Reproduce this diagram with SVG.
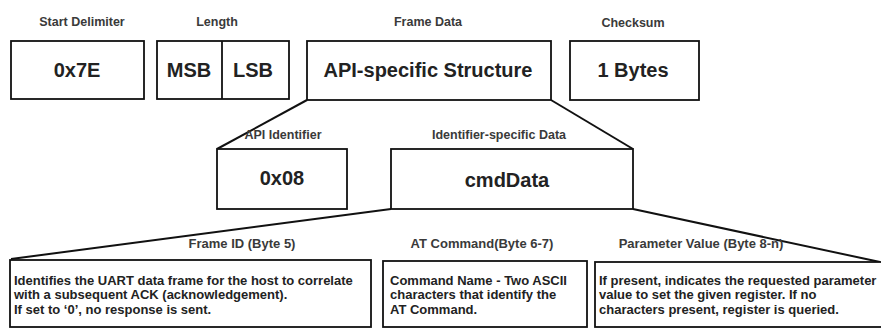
<svg xmlns="http://www.w3.org/2000/svg" width="881" height="328" viewBox="0 0 881 328">
  <style>
    .box { fill: #ffffff; stroke: #111111; stroke-width: 1.8; }
    .link { fill: none; stroke: #111111; stroke-width: 2; }
    .cap { font-family: "Liberation Sans", Arial, sans-serif; font-weight: bold; font-size: 12.5px; fill: #3a3a3a; text-anchor: middle; }
    .cap2 { font-family: "Liberation Sans", Arial, sans-serif; font-weight: bold; font-size: 13px; fill: #3a3a3a; text-anchor: middle; }
    .big { font-family: "Liberation Sans", Arial, sans-serif; font-weight: bold; font-size: 20px; fill: #222222; text-anchor: middle; }
    .body { font-family: "Liberation Sans", Arial, sans-serif; font-weight: bold; font-size: 13px; fill: #222222; }
  </style>
  <rect width="881" height="328" fill="#ffffff"/>

  <!-- connectors: expansion outlines between levels -->
  <g id="connectors">
    <path class="link" d="M307,100 L217,149"/>
    <path class="link" d="M551,100 L633,149"/>
    <path class="link" d="M391,209 L11,259"/>
    <path class="link" d="M633,209 L880,262"/>
  </g>

  <!-- top row -->
  <g id="start-delimiter">
    <text class="cap" x="82" y="26">Start Delimiter</text>
    <rect class="box" x="11" y="41" width="133" height="58"/>
    <text class="big" x="77" y="77">0x7E</text>
  </g>
  <g id="length">
    <text class="cap" x="217" y="26">Length</text>
    <rect class="box" x="157" y="41" width="132" height="58"/>
    <line class="box" x1="222" y1="41" x2="222" y2="99"/>
    <text class="big" x="189" y="77">MSB</text>
    <text class="big" x="253" y="77">LSB</text>
  </g>
  <g id="frame-data">
    <text class="cap" x="428" y="26">Frame Data</text>
    <rect class="box" x="307" y="41" width="244" height="59"/>
    <text class="big" x="428" y="77">API-specific Structure</text>
  </g>
  <g id="checksum">
    <text class="cap" x="633" y="27">Checksum</text>
    <rect class="box" x="570" y="41" width="129" height="59"/>
    <text class="big" x="633" y="77">1 Bytes</text>
  </g>

  <!-- middle row -->
  <g id="api-identifier">
    <text class="cap" x="283" y="139">API Identifier</text>
    <rect class="box" x="217" y="149" width="130" height="60"/>
    <text class="big" x="282" y="185">0x08</text>
  </g>
  <g id="identifier-data">
    <text class="cap" x="499" y="139">Identifier-specific Data</text>
    <rect class="box" x="391" y="149" width="242" height="60"/>
    <text class="big" x="507" y="187">cmdData</text>
  </g>

  <!-- bottom row -->
  <g id="frame-id">
    <text class="cap2" x="242" y="248">Frame ID (Byte 5)</text>
    <rect class="box" x="10" y="260" width="361" height="67"/>
    <text class="body" x="14" y="285">Identifies the UART data frame for the host to correlate</text>
    <text class="body" x="14" y="299">with a subsequent ACK (acknowledgement).</text>
    <text class="body" x="14" y="314">If set to ‘0’, no response is sent.</text>
  </g>
  <g id="at-command">
    <text class="cap2" x="482" y="248">AT Command(Byte 6-7)</text>
    <rect class="box" x="383" y="261" width="204" height="66"/>
    <text class="body" x="390" y="285">Command Name - Two ASCII</text>
    <text class="body" x="390" y="299">characters that identify the</text>
    <text class="body" x="390" y="314">AT Command.</text>
  </g>
  <g id="parameter-value">
    <text class="cap2" x="701" y="248">Parameter Value (Byte 8-n)</text>
    <rect class="box" x="595" y="262" width="290" height="65"/>
    <text class="body" x="599" y="285">If present, indicates the requested parameter</text>
    <text class="body" x="599" y="299">value to set the given register. If no</text>
    <text class="body" x="599" y="314">characters present, register is queried.</text>
  </g>
</svg>
